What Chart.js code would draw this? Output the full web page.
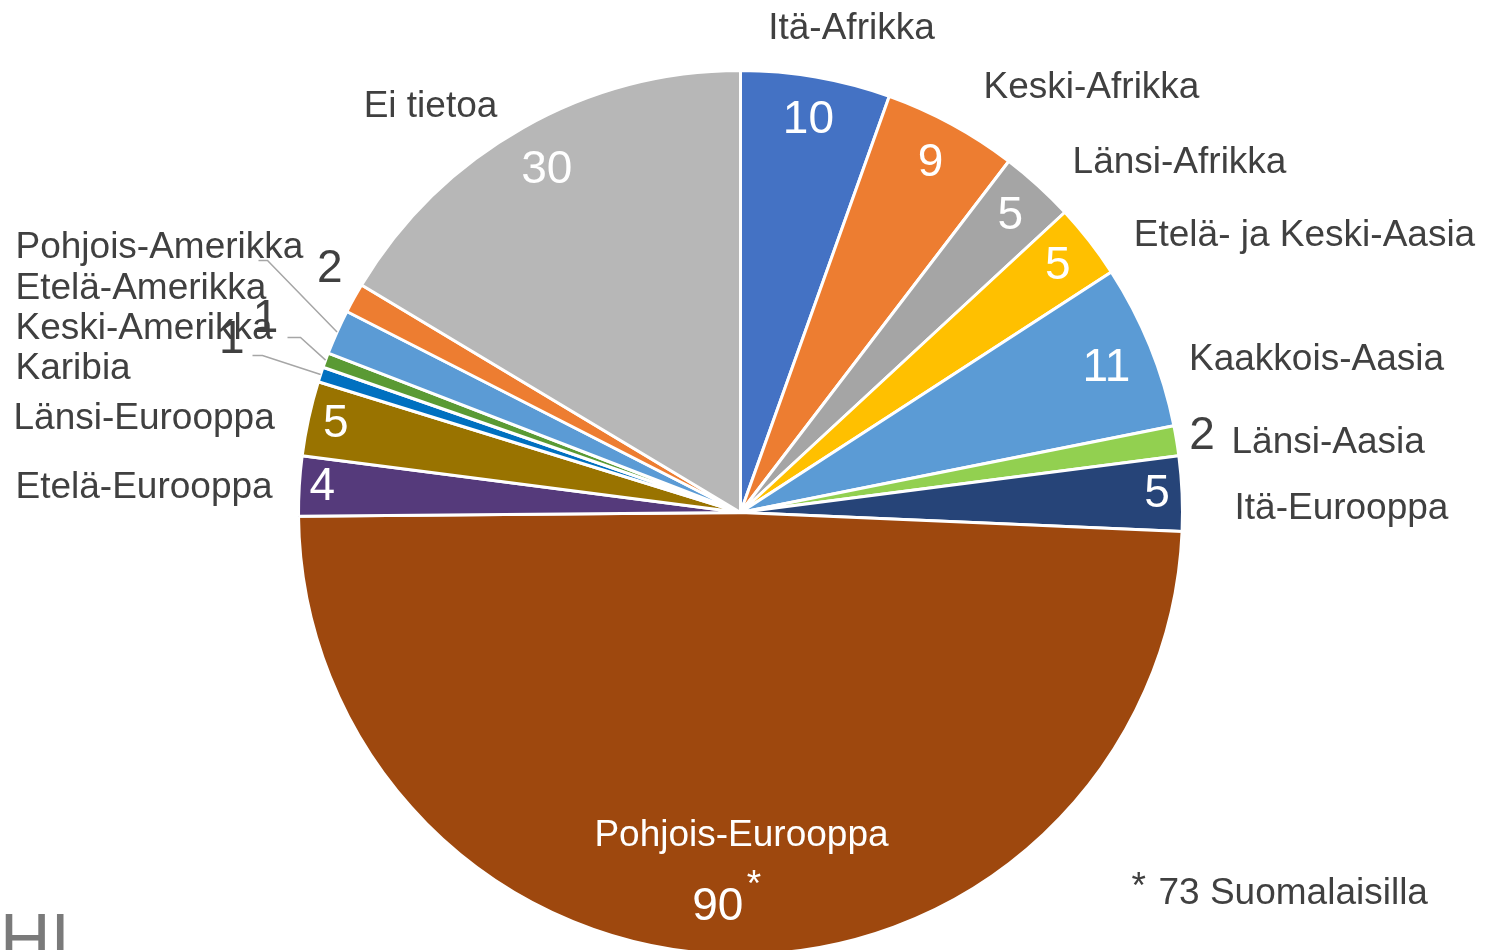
<!DOCTYPE html>
<html>
<head>
<meta charset="utf-8">
<script src="https://cdn.jsdelivr.net/npm/chart.js@4"></script>
<style>
html, body { margin: 0; padding: 0; background: #fff; overflow: hidden; }
#wrap { width: 1487px; height: 950px; overflow: hidden; position: relative; }
</style>
</head>
<body>
<div id="wrap"><canvas id="myChart" width="1487" height="960"></canvas></div>
<script>
const categories = ['Itä-Afrikka', 'Keski-Afrikka', 'Länsi-Afrikka', 'Etelä- ja Keski-Aasia', 'Kaakkois-Aasia',
    'Länsi-Aasia', 'Itä-Eurooppa', 'Pohjois-Eurooppa', 'Etelä-Eurooppa', 'Länsi-Eurooppa',
    'Karibia', 'Keski-Amerikka', 'Etelä-Amerikka', 'Pohjois-Amerikka', 'Ei tietoa']
const values = [10, 9, 5, 5, 11, 2, 5, 90, 4, 5, 1, 1, 3, 2, 30]
const colors = ['#4472C4', '#ED7D31', '#A5A5A5', '#FFC000', '#5B9BD5', '#92D050', '#264478', '#9E480E',
    '#553A7B', '#997300', '#0070C0', '#5A9A34', '#5B9BD5', '#ED7D31', '#B7B7B7']
const footnote = '73 Suomalaisilla'

const FONT = '"Liberation Sans", Arial, sans-serif'
const DARK = '#404040'

// where the value sits along the slice middle, as share of the radius (null = hidden)
const valueRadius = [0.9, 0.9, 0.907, 0.909, 0.89, 1.058, 0.943, 0.894, 0.948, 0.937, 1.215, 1.16, null, 1.08, 0.89]
// small turn away from the slice middle for crowded labels, degrees
const valueTurn = [0, 0, 0, 0, 0.6, 0, 0, 0, 0, 0, 0.5, 2, 0, 1.6, 0]

// category names: offset from pie centre to the text baseline, and alignment
const namePos = [
    [111, -474, 'center'], [351, -415, 'center'], [439, -340, 'center'], [564, -267, 'center'],
    [576, -143, 'center'], [491, -60, 'left'], [494, 6, 'left'], [1, 333, 'center'],
    [-725, -15, 'left'], [-727, -84, 'left'], [-725, -134, 'left'], [-725, -174, 'left'],
    [-725, -214, 'left'], [-725, -255, 'left'], [-310, -396, 'center']
]

// leader lines: slice index, start x, knee x, y (offsets from centre)
const leaders = [[12, -482, -473, -252], [11, -453, -440, -175], [10, -488, -478, -157]]

const labelPlugin = {
    id: 'sliceLabels',
    afterDatasetsDraw(chart) {
        const ctx = chart.ctx
        const arcs = chart.getDatasetMeta(0).data
        const cx = arcs[0].x
        const cy = arcs[0].y
        const mid = a => (a.startAngle + a.endAngle) / 2
        ctx.save()

        ctx.strokeStyle = '#A6A6A6'
        ctx.lineWidth = 1.5
        leaders.forEach(([i, x0, x1, y]) => {
            const a = arcs[i]
            ctx.beginPath()
            ctx.moveTo(cx + x0, cy + y)
            ctx.lineTo(cx + x1, cy + y)
            ctx.lineTo(cx + Math.cos(mid(a)) * a.outerRadius, cy + Math.sin(mid(a)) * a.outerRadius)
            ctx.stroke()
        })

        ctx.font = '37px ' + FONT
        ctx.textBaseline = 'alphabetic'
        categories.forEach((name, i) => {
            const [dx, dy, align] = namePos[i]
            ctx.textAlign = align
            ctx.fillStyle = i === 7 ? '#fff' : DARK
            ctx.fillText(name, cx + dx, cy + dy)
        })

        ctx.textBaseline = 'middle'
        values.forEach((v, i) => {
            const k = valueRadius[i]
            if (k === null) return
            const a = arcs[i]
            const ang = mid(a) + valueTurn[i] * Math.PI / 180
            const x = cx + Math.cos(ang) * a.outerRadius * k
            const y = cy + Math.sin(ang) * a.outerRadius * k
            ctx.fillStyle = k > 1 ? DARK : '#fff'
            ctx.font = '46px ' + FONT
            if (i === 7) {
                ctx.textAlign = 'center'
                ctx.fillText(String(v), x - 16, y)
                ctx.font = '37px ' + FONT
                ctx.textAlign = 'left'
                ctx.textBaseline = 'alphabetic'
                ctx.fillText('*', x + 13, y - 12)
                ctx.textBaseline = 'middle'
            } else {
                ctx.textAlign = 'center'
                ctx.fillText(String(v), x, y)
            }
        })

        // footnote and the cut logo at the bottom left
        ctx.textBaseline = 'alphabetic'
        ctx.textAlign = 'left'
        ctx.fillStyle = DARK
        ctx.font = '37px ' + FONT
        ctx.fillText('*', cx + 391, cy + 385)
        ctx.fillText(footnote, cx + 418, cy + 391)
        ctx.fillStyle = '#7A7A7A'
        ctx.font = '70px ' + FONT
        ctx.fillText('HI', 0, 963)
        ctx.restore()
    }
}

const chart = new Chart(document.getElementById('myChart'), {
    type: 'pie',
    data: {
        labels: categories,
        datasets: [{
            data: values,
            backgroundColor: colors,
            borderColor: '#FFFFFF',
            borderWidth: 3
        }]
    },
    options: {
        responsive: false,
        animation: false,
        layout: {
            padding: { left: 297, right: 303, top: 69, bottom: 4 }
        },
        plugins: {
            legend: { display: false },
            tooltip: { enabled: false }
        }
    },
    plugins: [labelPlugin]
});
</script>
</body>
</html>
